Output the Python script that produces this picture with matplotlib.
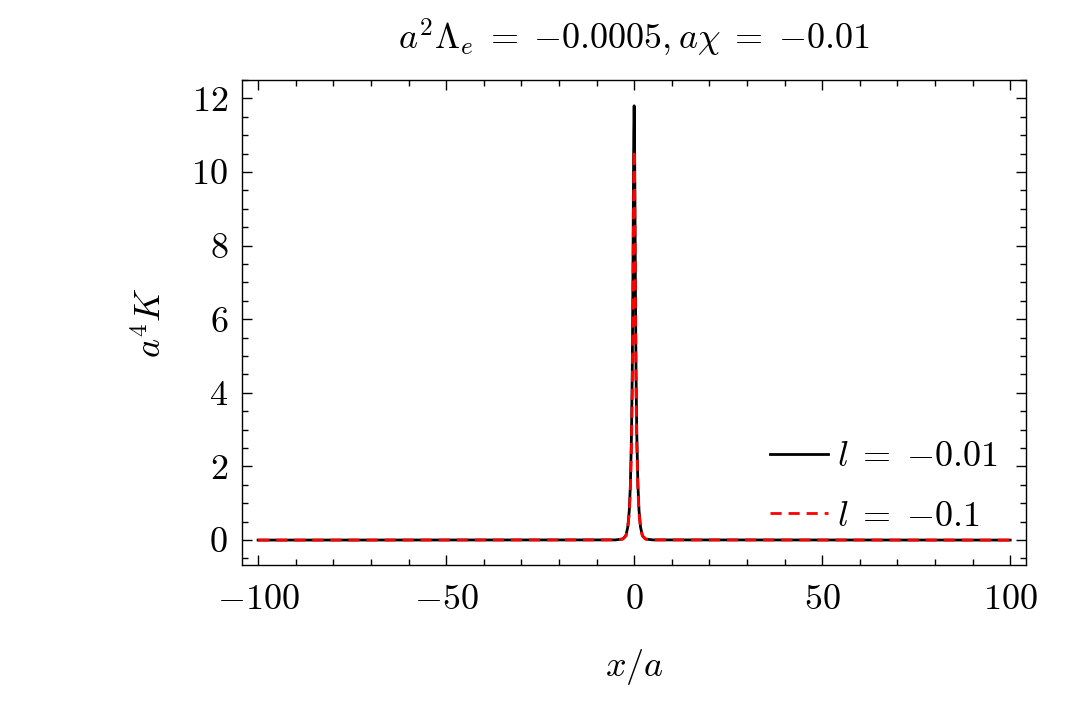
import matplotlib
matplotlib.use('Agg')
import matplotlib.pyplot as plt
from matplotlib.ticker import MultipleLocator

plt.rcParams.update({
    'font.family': 'serif',
    'font.serif': ['cmr10', 'DejaVu Serif'],
    'mathtext.fontset': 'cm',
    'axes.formatter.use_mathtext': True,
    'font.size': 26,
    'axes.unicode_minus': True,
})

# data (symmetric spike at x = 0)
x_half = [0.0, 0.1, 0.2, 0.35, 0.5, 0.7, 1.0, 1.3, 1.7, 2.2, 3.0, 5.0, 100.0]
k_black_half = [11.8, 11.1, 9.4, 6.7, 4.6, 2.9, 1.5, 0.8, 0.35, 0.12, 0.03, 0.005, 0.0]
k_red_half = [10.6, 10.0, 8.5, 6.0, 4.1, 2.6, 1.35, 0.72, 0.32, 0.11, 0.03, 0.005, 0.0]

x_vals = [-v for v in x_half[:0:-1]] + x_half
k_black = k_black_half[:0:-1] + k_black_half
k_red = k_red_half[:0:-1] + k_red_half

labels = [r'$l\;=\;{-}0.01$', r'$l\;=\;{-}0.1$']

fig = plt.figure(figsize=(10.8, 7.02), dpi=100)
ax = fig.add_axes([0.224, 0.195, 0.726, 0.691])

ax.plot(x_vals, k_black, color='black', lw=2.0, label=labels[0])
ax.plot(x_vals, k_red, color='red', lw=2.0, ls=(0, (4, 2.5)), label=labels[1])

ax.set_xlim(-104.3, 104.2)
ax.set_ylim(-0.68, 12.5)
ax.xaxis.set_major_locator(MultipleLocator(50))
ax.xaxis.set_minor_locator(MultipleLocator(10))
ax.yaxis.set_major_locator(MultipleLocator(2))
ax.yaxis.set_minor_locator(MultipleLocator(0.5))
ax.tick_params(which='both', direction='in', top=True, right=True, width=1.0,
               labelsize=26)
ax.tick_params(which='major', length=7)
ax.tick_params(axis='x', which='major', pad=14)
ax.tick_params(axis='y', which='major', pad=10)
ax.tick_params(which='minor', length=4)
for s in ax.spines.values():
    s.set_linewidth(1.0)

ax.set_title(r'$a^2\Lambda_e\;=\;{-}0.0005, a\chi\;=\;{-}0.01$', fontsize=26, pad=22)
ax.set_xlabel(r'$x/a$', fontsize=26, labelpad=22)
ax.set_ylabel(r'$a^4K$', fontsize=26, labelpad=16)

ax.legend(loc='lower right', frameon=False, fontsize=26, handlelength=1.6,
          handletextpad=0.25, labelspacing=0.75, bbox_to_anchor=(1.005, 0.0))

fig.savefig('out.png', dpi=100, facecolor='white')
